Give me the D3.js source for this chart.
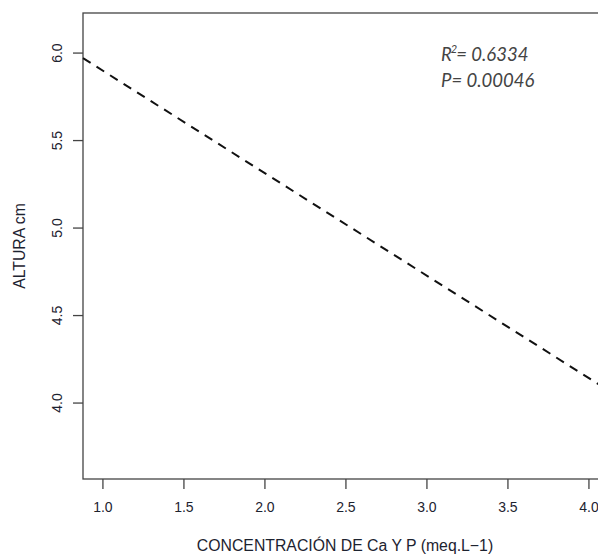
<!DOCTYPE html>
<html lang="es">
<head>
<meta charset="UTF-8">
<script src="https://cdn.jsdelivr.net/npm/d3@7"></script>
<title>Altura vs concentración</title>
<style>
  body { margin: 0; background: #fff; }
  svg text { font-family: "Liberation Sans", Arial, sans-serif; fill: #1d2330; }
  .note { font-family: Lato, "Open Sans", sans-serif; font-style: italic; fill: #444; }
</style>
</head>
<body>
<div id="chart"></div>
<script>
  // axis ticks
  const xTicks = [1.0, 1.5, 2.0, 2.5, 3.0, 3.5, 4.0];
  const yTicks = [4.0, 4.5, 5.0, 5.5, 6.0];
  // regression line endpoints
  const lineX = [0.877, 4.13];
  const lineY = [5.971, 4.066];
  const notes = ["0.6334", "0.00046"];

  const width = 598, height = 556;
  const plot = { left: 83, top: 13, right: 610, bottom: 479 };

  const svg = d3.select("#chart").append("svg")
    .attr("width", width)
    .attr("height", height);

  const x = d3.scaleLinear().domain([0.877, 4.13]).range([plot.left, plot.right]);
  const y = d3.scaleLinear().domain([3.566, 6.229]).range([plot.bottom, plot.top]);

  // box
  svg.append("rect")
    .attr("x", plot.left).attr("y", plot.top)
    .attr("width", plot.right - plot.left).attr("height", plot.bottom - plot.top)
    .attr("fill", "none").attr("stroke", "#444").attr("stroke-width", 1.3);

  // x axis
  const gx = svg.append("g").attr("transform", `translate(0,${plot.bottom})`);
  gx.selectAll("line").data(xTicks).enter().append("line")
    .attr("x1", d => x(d)).attr("x2", d => x(d))
    .attr("y1", 0).attr("y2", 10)
    .attr("stroke", "#444").attr("stroke-width", 1.3);
  gx.selectAll("text").data(xTicks).enter().append("text")
    .attr("x", d => x(d)).attr("y", 33)
    .attr("text-anchor", "middle")
    .attr("font-size", 14)
    .text(d => d.toFixed(1));

  // y axis
  const gy = svg.append("g").attr("transform", `translate(${plot.left},0)`);
  gy.selectAll("line").data(yTicks).enter().append("line")
    .attr("x1", 0).attr("x2", -10)
    .attr("y1", d => y(d)).attr("y2", d => y(d))
    .attr("stroke", "#444").attr("stroke-width", 1.3);
  gy.selectAll("text").data(yTicks).enter().append("text")
    .attr("transform", d => `translate(-21,${y(d)}) rotate(-90)`)
    .attr("text-anchor", "middle")
    .attr("font-size", 14)
    .text(d => d.toFixed(1));

  // titles
  svg.append("text")
    .attr("x", 345).attr("y", 551)
    .attr("text-anchor", "middle")
    .attr("font-size", 15.8)
    .text("CONCENTRACIÓN DE Ca Y P (meq.L\u22121)");

  svg.append("text")
    .attr("transform", `translate(25,${(plot.top + plot.bottom) / 2}) rotate(-90)`)
    .attr("text-anchor", "middle")
    .attr("font-size", 15.8)
    .text("ALTURA cm");

  // fitted line
  const pts = lineX.map((v, i) => [v, lineY[i]]);
  svg.append("path")
    .datum(pts)
    .attr("d", d3.line().x(d => x(d[0])).y(d => y(d[1])))
    .attr("fill", "none")
    .attr("stroke", "#111")
    .attr("stroke-width", 2)
    .attr("stroke-dasharray", "9,7");

  // annotation
  const r2 = svg.append("text").attr("class", "note")
    .attr("x", 441).attr("y", 61).attr("font-size", 18.5);
  r2.append("tspan").text("R");
  r2.append("tspan").attr("dy", -8).attr("dx", -1).attr("font-size", 11).text("2");
  r2.append("tspan").attr("dy", 8).attr("dx", -1).text("= " + notes[0]);

  svg.append("text").attr("class", "note")
    .attr("x", 441).attr("y", 87).attr("font-size", 18.5)
    .text("P= " + notes[1]);
</script>
</body>
</html>
